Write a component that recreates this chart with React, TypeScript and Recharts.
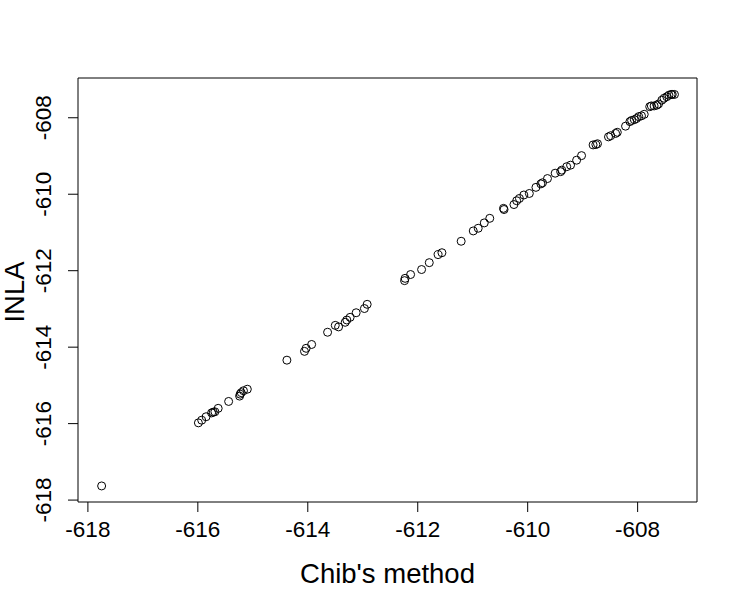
import React from 'react';
import { ScatterChart, Scatter, XAxis, YAxis, ReferenceArea } from 'recharts';

// log marginal likelihoods, one entry per model
const chib = [
  -617.75, -615.99, -615.93, -615.85, -615.75, -615.72, -615.69, -615.63, -615.44, -615.24,
  -615.23, -615.21, -615.17, -615.10, -614.38, -614.06, -614.03, -613.93, -613.64, -613.50,
  -613.44, -613.32, -613.29, -613.23, -613.12, -612.97, -612.92, -612.24, -612.23, -612.13,
  -611.93, -611.79, -611.63, -611.56, -611.21, -610.99, -610.90, -610.79, -610.69, -610.44,
  -610.43, -610.25, -610.20, -610.15, -610.07, -609.97, -609.85, -609.76, -609.73, -609.64,
  -609.50, -609.40, -609.38, -609.29, -609.22, -609.11, -609.02, -608.81, -608.76, -608.73,
  -608.53, -608.49, -608.40, -608.37, -608.22, -608.14, -608.11, -608.06, -608.02, -607.98,
  -607.93, -607.88, -607.78, -607.75, -607.70, -607.65, -607.62, -607.56, -607.52, -607.47,
  -607.43, -607.39, -607.37, -607.33,
];
const inla = [
  -617.63, -615.98, -615.91, -615.82, -615.72, -615.70, -615.69, -615.60, -615.42, -615.28,
  -615.23, -615.19, -615.14, -615.10, -614.34, -614.11, -614.03, -613.93, -613.61, -613.43,
  -613.47, -613.35, -613.29, -613.22, -613.10, -612.99, -612.88, -612.26, -612.20, -612.10,
  -611.97, -611.79, -611.58, -611.53, -611.23, -610.96, -610.89, -610.75, -610.63, -610.37,
  -610.40, -610.27, -610.17, -610.11, -610.02, -609.98, -609.82, -609.73, -609.70, -609.59,
  -609.45, -609.41, -609.37, -609.28, -609.24, -609.11, -608.99, -608.71, -608.70, -608.68,
  -608.50, -608.47, -608.41, -608.38, -608.22, -608.10, -608.07, -608.05, -608.02, -607.97,
  -607.95, -607.91, -607.71, -607.69, -607.69, -607.67, -607.64, -607.54, -607.49, -607.45,
  -607.41, -607.39, -607.39, -607.39,
];
const xTicks = [-618, -616, -614, -612, -610, -608];
const yTicks = [-618, -616, -614, -612, -610, -608];

const X_DOMAIN = [-618.18, -606.92];
const Y_DOMAIN = [-618.05, -606.96];

const data = chib.map((c, i) => ({ chib: c, inla: inla[i] }));

const FONT = '"Liberation Sans", Arial, Helvetica, sans-serif';

const OpenCircle = (props: any) => (
  <circle cx={props.cx} cy={props.cy} r={4} fill="none" stroke="#000" strokeWidth={1} />
);

const XTick = (props: any) => (
  <text x={props.x} y={537} textAnchor="middle" fontFamily={FONT} fontSize={22.5} fill="#000">
    {props.payload.value}
  </text>
);

const YTick = (props: any) => (
  <text
    transform={`translate(51, ${props.y}) rotate(-90)`}
    textAnchor="middle"
    fontFamily={FONT}
    fontSize={22.5}
    fill="#000"
  >
    {props.payload.value}
  </text>
);

const App: React.FC = () => {
  return (
    <div style={{ position: 'absolute', left: 0, top: 0, background: '#fff' }}>
      <ScatterChart width={737} height={600} margin={{ top: 78, right: 40, bottom: 0, left: 0 }}>
        <XAxis
          type="number"
          dataKey="chib"
          domain={X_DOMAIN}
          ticks={xTicks}
          height={98}
          axisLine={false}
          tickLine={{ stroke: '#000' }}
          tickSize={10}
          tick={<XTick />}
          allowDataOverflow
          label={{
            content: () => (
              <text x={387.5} y={583} textAnchor="middle" fontFamily={FONT} fontSize={27.5} fill="#000">
                Chib's method
              </text>
            ),
          }}
        />
        <YAxis
          type="number"
          dataKey="inla"
          domain={Y_DOMAIN}
          ticks={yTicks}
          width={78}
          axisLine={false}
          tickLine={{ stroke: '#000' }}
          tickSize={10}
          tick={<YTick />}
          allowDataOverflow
          label={{
            content: () => (
              <text
                transform="translate(23.5, 292) rotate(-90)"
                textAnchor="middle"
                fontFamily={FONT}
                fontSize={27.5}
                fill="#000"
              >
                INLA
              </text>
            ),
          }}
        />
        <ReferenceArea
          x1={X_DOMAIN[0]}
          x2={X_DOMAIN[1]}
          y1={Y_DOMAIN[0]}
          y2={Y_DOMAIN[1]}
          fill="none"
          stroke="#000"
          strokeWidth={1}
          ifOverflow="visible"
        />
        <Scatter data={data} shape={<OpenCircle />} isAnimationActive={false} />
      </ScatterChart>
    </div>
  );
};

export default App;
